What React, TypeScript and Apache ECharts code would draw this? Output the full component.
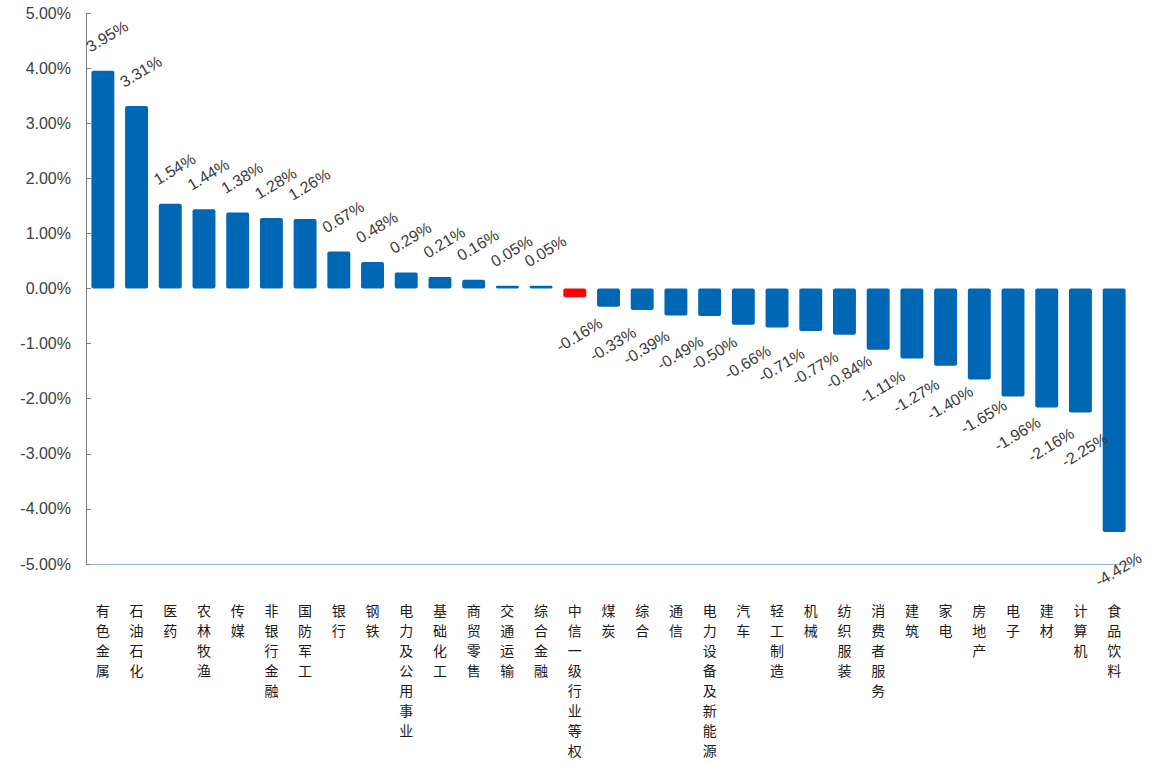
import React, { useEffect, useRef } from "react";
import * as echarts from "echarts";

const categories = [
  "有色金属", "石油石化", "医药", "农林牧渔", "传媒", "非银行金融", "国防军工", "银行", "钢铁",
  "电力及公用事业", "基础化工", "商贸零售", "交通运输", "综合金融", "中信一级行业等权", "煤炭", "综合",
  "通信", "电力设备及新能源", "汽车", "轻工制造", "机械", "纺织服装", "消费者服务", "建筑", "家电",
  "房地产", "电子", "建材", "计算机", "食品饮料",
];

const values = [
  3.95, 3.31, 1.54, 1.44, 1.38, 1.28, 1.26, 0.67, 0.48, 0.29, 0.21, 0.16, 0.05, 0.05, -0.16, -0.33,
  -0.39, -0.49, -0.5, -0.66, -0.71, -0.77, -0.84, -1.11, -1.27, -1.4, -1.65, -1.96, -2.16, -2.25, -4.42,
];

const highlightCategory = "中信一级行业等权";

const BLUE = "#0067b5";
const RED = "#ff0000";

export default function App() {
  const ref = useRef<HTMLDivElement>(null);

  useEffect(() => {
    if (!ref.current) return;
    const chart = echarts.init(ref.current, undefined, { renderer: "svg" });
    const labelBase = {
      show: true,
      rotate: 31,
      align: "center",
      verticalAlign: "middle",
      fontSize: 16,
      color: "#3a3a3a",
      fontFamily: "Liberation Sans, Arial, sans-serif",
      offset: [5, 0],
      formatter: (p: any) => `${Number(p.value).toFixed(2)}%`,
    };
    const data = values.map((v, i) => ({
      value: v,
      itemStyle: { color: categories[i] === highlightCategory ? RED : BLUE },
      label: {
        ...labelBase,
        position: v >= 0 ? "top" : "bottom",
        distance: v >= 0 ? 32 : 40,
      },
    }));
    chart.setOption({
      animation: false,
      backgroundColor: "#ffffff",
      grid: { left: 86, right: 27, top: 13, bottom: 201, containLabel: false },
      xAxis: [
        {
          type: "category",
          data: categories,
          position: "bottom",
          axisLine: { show: false },
          axisTick: { show: false },
          axisLabel: {
            interval: 0,
            margin: 36,
            fontSize: 14,
            lineHeight: 20,
            color: "#1a1a1a",
            fontFamily: "Noto Sans CJK SC",
            verticalAlign: "top",
            formatter: (v: string) => v.split("").join("\n"),
          },
        },
        {
          type: "category",
          data: categories,
          position: "bottom",
          axisLine: { show: true, onZero: true, lineStyle: { color: "#8db4e2", width: 1 } },
          axisTick: { show: false },
          axisLabel: { show: false },
        },
      ],
      yAxis: {
        type: "value",
        min: -5,
        max: 5,
        interval: 1,
        axisLine: { show: true, lineStyle: { color: "#808080", width: 1 } },
        axisTick: { show: true, inside: true, length: 5, lineStyle: { color: "#808080" } },
        splitLine: { show: false },
        axisLabel: {
          margin: 15,
          fontSize: 16,
          color: "#404040",
          fontFamily: "Liberation Sans, Arial, sans-serif",
          formatter: (v: number) => `${v.toFixed(2)}%`,
        },
      },
      series: [
        {
          type: "bar",
          xAxisIndex: 0,
          data,
          barWidth: "68%",
          itemStyle: { borderRadius: 2 },
        },
      ],
    });
    return () => chart.dispose();
  }, []);

  return (
    <div
      ref={ref}
      style={{ position: "fixed", left: 0, top: 0, width: 1158, height: 765, background: "#fff" }}
    />
  );
}
